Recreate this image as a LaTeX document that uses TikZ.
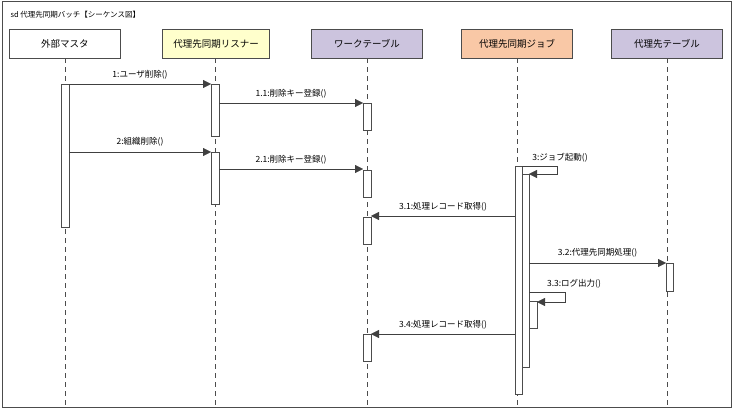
\documentclass[tikz,border=0pt]{standalone}
\usepackage{fontspec}
\setmainfont{Noto Sans CJK JP}
\usetikzlibrary{arrows.meta}
\definecolor{cyel}{HTML}{FFFFCC}
\definecolor{clav}{HTML}{CCC4DE}
\definecolor{corg}{HTML}{F9C8A6}
\begin{document}
\begin{tikzpicture}[x=1pt,y=-1pt,font=\fontsize{8.5}{9}\selectfont,
  head/.style={draw=black!70,minimum width=111pt,minimum height=29pt,inner sep=0pt,font=\fontsize{9.5}{10}\selectfont},
  life/.style={draw=black!70,dash pattern=on 5pt off 4pt},
  act/.style={draw=black!70,fill=white},
  msg/.style={draw=black!75,-{Triangle[length=8pt,width=8pt]}},
  lbl/.style={inner sep=1pt}]
\useasboundingbox (0,0) rectangle (734,409);
\draw[black!70,line width=1pt] (2,2) rectangle (731,407);
\node[anchor=west,font=\fontsize{7.5}{8}\selectfont] (title) at (7,15) {sd 代理先同期バッチ【シーケンス図】};
\node[head,fill=white] (h1) at (65,43.5) {外部マスタ};
\node[head,fill=cyel,minimum width=107pt] (h2) at (216,43.5) {代理先同期リスナー};
\node[head,fill=clav] (h3) at (367,43.5) {ワークテーブル};
\node[head,fill=corg] (h4) at (517,43.5) {代理先同期ジョブ};
\node[head,fill=clav] (h5) at (667,43.5) {代理先テーブル};
\foreach \n/\x in {h1/65,h2/215,h3/367,h4/517,h5/667}
  \draw[life] (\n.south -| \x,0) -- (\x,405);
% activations
\draw[act] (61,84) rectangle (69,227);
\draw[act] (211,84) rectangle (219,136);
\draw[act] (211,152) rectangle (219,204);
\draw[act] (363,103) rectangle (371,130);
\draw[act] (363,170) rectangle (371,197);
\draw[act] (363,217) rectangle (371,244);
\draw[act] (363,334) rectangle (371,361);
\draw[act] (515,166) rectangle (522,394);
\draw[act] (522,174) rectangle (529,367);
\draw[act] (529,301) rectangle (537,328);
\draw[act] (666,263) rectangle (673,291);
% messages
\coordinate (m1a) at (69,84); \coordinate (m1b) at (211,84);
\draw[msg] (m1a) -- (m1b) node[lbl,midway,above=4pt] {1:ユーザ削除()};
\coordinate (m11a) at (219,103); \coordinate (m11b) at (363,103);
\draw[msg] (m11a) -- (m11b) node[lbl,midway,above=4pt] {1.1:削除キー登録()};
\coordinate (m2a) at (69,152); \coordinate (m2b) at (211,152);
\draw[msg] (m2a) -- (m2b) node[lbl,midway,above=5pt] {2:組織削除()};
\coordinate (m21a) at (219,169); \coordinate (m21b) at (363,169);
\draw[msg] (m21a) -- (m21b) node[lbl,midway,above=4pt] {2.1:削除キー登録()};
\coordinate (m3a) at (522,166); \coordinate (m3b) at (529,174);
\draw[msg] (m3a) -- (557,166) -- (557,174) -- (m3b);
\node[lbl,anchor=south] (l3) at (560,163) {3:ジョブ起動()};
\coordinate (m31a) at (515,216); \coordinate (m31b) at (371,216);
\draw[msg] (m31a) -- (m31b) node[lbl,midway,above=4pt] {3.1:処理レコード取得()};
\coordinate (m32a) at (529,263); \coordinate (m32b) at (666,263);
\draw[msg] (m32a) -- (m32b) node[lbl,midway,above=5pt] {3.2:代理先同期処理()};
\coordinate (m33a) at (529,292); \coordinate (m33b) at (537,302);
\draw[msg] (m33a) -- (565,292) -- (565,302) -- (m33b);
\node[lbl,anchor=south] (l33) at (574,289) {3.3:ログ出力()};
\coordinate (m34a) at (515,334); \coordinate (m34b) at (371,334);
\draw[msg] (m34a) -- (m34b) node[lbl,midway,above=4pt] {3.4:処理レコード取得()};
\end{tikzpicture}
\end{document}
